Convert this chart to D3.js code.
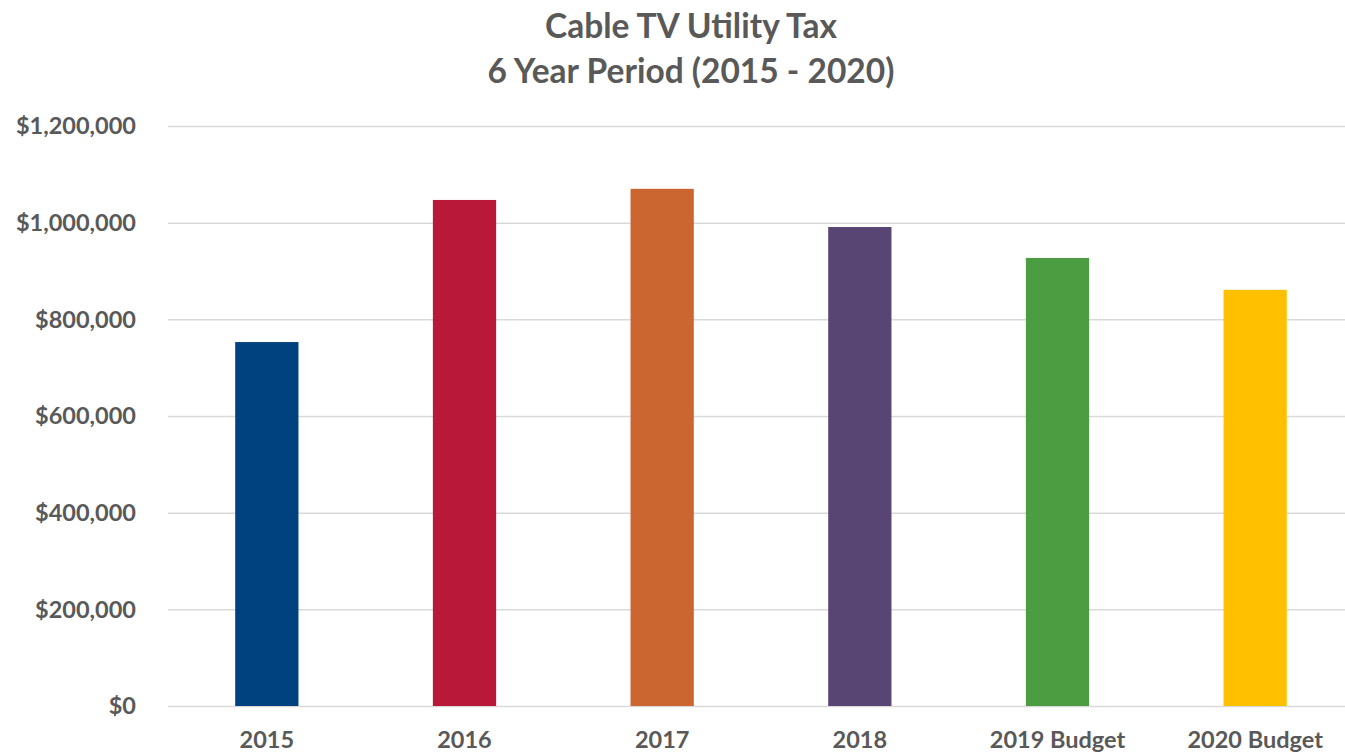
<!DOCTYPE html>
<html>
<head>
<meta charset="utf-8">
<script src="https://cdnjs.cloudflare.com/ajax/libs/d3/7.8.5/d3.min.js"></script>
<style>
  body { margin: 0; background: #fff; overflow: hidden; }
  text { font-family: Lato, "Open Sans", sans-serif; font-weight: bold; fill: #595959; }
  .grid line { stroke: #d9d9d9; stroke-width: 1.5px; }
</style>
</head>
<body>
<svg id="chart"></svg>
<script>
// data
var categories = ["2015", "2016", "2017", "2018", "2019 Budget", "2020 Budget"];
var taxValues = [753000, 1047000, 1070000, 991000, 927000, 861000];
var barColors = ["#00427f", "#ba1838", "#cc6631", "#594573", "#4c9c41", "#ffc000"];
var yTicks = [0, 200000, 400000, 600000, 800000, 1000000, 1200000];
var titleLines = ["Cable TV Utility Tax", "6 Year Period (2015 - 2020)"];

var W = 1345, H = 756;
// the plot runs a little past the right edge of the window, as in the original
var margin = {top: 126, right: -9, bottom: 50, left: 168};
var width = W - margin.left - margin.right;
var height = H - margin.top - margin.bottom;

var svg = d3.select("#chart").attr("width", W).attr("height", H);

// title
svg.append("g").selectAll("text")
  .data(titleLines)
  .enter().append("text")
  .attr("x", 691)
  .attr("y", function(d, i) { return 38 + i * 45; })
  .attr("text-anchor", "middle")
  .style("font-size", "33.5px")
  .text(function(d) { return d; });

var plot = svg.append("g").attr("transform", "translate(" + margin.left + "," + margin.top + ")");

var x = d3.scaleBand().domain(categories).range([0, width]).paddingInner(0.68).paddingOuter(0.34);
var y = d3.scaleLinear().domain([0, 1200000]).range([height, 0]);

// gridlines
plot.append("g")
  .attr("class", "grid")
  .call(d3.axisLeft(y).tickValues(yTicks).tickSize(-width).tickFormat(""))
  .call(function(g) { g.select(".domain").remove(); });

// y labels
plot.append("g").selectAll("text")
  .data(yTicks)
  .enter().append("text")
  .attr("x", -32)
  .attr("y", function(d) { return y(d); })
  .attr("dy", "0.35em")
  .attr("text-anchor", "end")
  .style("font-size", "23.5px")
  .text(function(d) { return d3.format("$,")(d); });

// bars
plot.selectAll(".bar")
  .data(taxValues)
  .enter().append("rect")
  .attr("class", "bar")
  .attr("x", function(d, i) { return x(categories[i]); })
  .attr("width", x.bandwidth())
  .attr("y", function(d) { return y(d); })
  .attr("height", function(d) { return height - y(d); })
  .attr("fill", function(d, i) { return barColors[i]; });

// x labels
plot.append("g").selectAll("text")
  .data(categories)
  .enter().append("text")
  .attr("x", function(d) { return x(d) + x.bandwidth() / 2; })
  .attr("y", height + 42)
  .attr("text-anchor", "middle")
  .style("font-size", "23.5px")
  .text(function(d) { return d; });
</script>
</body>
</html>
